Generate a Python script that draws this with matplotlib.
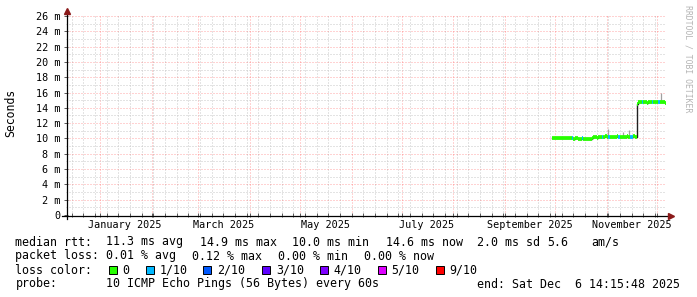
import datetime as dt
import matplotlib
matplotlib.use("Agg")
import matplotlib.pyplot as plt
import matplotlib.dates as mdates
import matplotlib.ticker as mticker
import matplotlib.transforms as mtransforms
from matplotlib.lines import Line2D
from matplotlib.patches import Rectangle

plt.rcParams['font.family'] = ['DejaVu Sans Mono']

W, H = 697, 297

# ---- data -------------------------------------------------------------
END = dt.datetime(2025, 12, 6, 14, 15, 48)
SPAN_DAYS = 360
FIRST_DAY = dt.datetime(2025, 9, 29)

# daily median rtt (ms), Sep 29 .. Dec 6
median_ms = [
    # Sep 29 - Oct 23
    10.0, 10.0, 10.0, 10.0, 10.1, 10.0, 10.0, 10.0, 10.0, 10.0,
    10.0, 10.0, 10.0, 9.9, 10.0, 10.0, 9.9, 9.9, 10.0, 9.9,
    9.9, 9.9, 9.9, 9.9, 10.0,
    # Oct 24 - Nov 18
    10.2, 10.2, 10.1, 10.2, 10.2, 10.2, 10.2, 10.3, 10.2, 10.2,
    10.2, 10.2, 10.2, 10.2, 10.3, 10.2, 10.2, 10.2, 10.2, 10.2,
    10.3, 10.2, 10.2, 10.2, 10.3, 10.2,
    # Nov 19 - Dec 6
    14.5, 14.8, 14.7, 14.7, 14.7, 14.7, 14.6, 14.7, 14.7, 14.8,
    14.7, 14.7, 14.7, 14.7, 14.7, 14.8, 14.7, 14.6,
]

# daily packet loss, in tenths
loss_tenths = [
    0, 0, 0, 0, 0, 0, 0, 0, 0, 0,
    0, 0, 1, 0, 0, 0, 0, 0, 1, 0,
    0, 0, 0, 0, 0, 0, 0, 0, 0, 0,
    1, 0, 0, 0, 1, 0, 0, 0, 0, 0,
    1, 0, 0, 0, 0, 0, 0, 1, 1, 0,
    0, 0, 0, 0, 1, 0, 0, 0, 0, 0,
    1, 0, 0, 0, 1, 0, 0, 0, 0,
]

# smoke spikes (ms)
spike_dates = ['2025-11-01', '2025-11-10', '2025-11-14', '2025-11-25', '2025-12-03']
spike_top_ms = [11.3, 10.9, 11.1, 15.0, 16.0]

loss_levels = [0, 1, 2, 3, 4, 5, 9]
loss_colors = ['#26ff00', '#00b8ff', '#0059ff', '#5e00ff', '#7e00ff', '#dd00ff', '#ff0000']

label_months = ['2025-01', '2025-03', '2025-05', '2025-07', '2025-09', '2025-11']

rtt_stats = ['11.3 ms avg', '14.9 ms max', '10.0 ms min', '14.6 ms now', '2.0 ms sd', '5.6', 'am/s']
loss_stats = ['0.01 % avg', '0.12 % max', '0.00 % min', '0.00 % now']
probe_text = '10 ICMP Echo Pings (56 Bytes) every 60s'
end_text = 'end: Sat Dec  6 14:15:48 2025'

# ---- figure -----------------------------------------------------------
fig = plt.figure(figsize=(W / 100, H / 100), dpi=100)
fig.patch.set_facecolor('white')

ax = fig.add_axes([66 / W, 1 - 215 / H, 600 / W, 200 / H])
ax.set_facecolor('white')
ax.set_xlim(END - dt.timedelta(days=SPAN_DAYS), END)
ax.set_ylim(0, 26.13)

for s in ax.spines.values():
    s.set_visible(False)

dots = (0, (1, 2))
ax.xaxis.set_major_locator(mdates.MonthLocator())
ax.xaxis.set_minor_locator(mdates.WeekdayLocator(byweekday=mdates.SU))
ax.yaxis.set_major_locator(mticker.MultipleLocator(2))
ax.yaxis.set_minor_locator(mticker.MultipleLocator(1))
ax.grid(which='minor', color='#c8c8c8', linestyle=dots, lw=0.72)
ax.grid(which='major', color='#ff0000', alpha=0.35, linestyle=dots, lw=0.72)
ax.set_axisbelow(True)

ax.tick_params(axis='x', which='both', labelbottom=False, direction='inout',
               length=3, width=0.6, color='#404040')
ax.tick_params(axis='y', which='major', direction='inout', length=3, width=0.6,
               color='#404040', labelsize=7.3, pad=2.6)
ax.tick_params(axis='y', which='minor', length=0)
ax.yaxis.set_major_formatter(
    mticker.FuncFormatter(lambda v, p: '0' if v == 0 else f'{v:.0f} m'))

# data
starts = [FIRST_DAY + dt.timedelta(days=i) for i in range(len(median_ms))]
ends = [min(d + dt.timedelta(days=1), END) for d in starts]
cmap = dict(zip(loss_levels, loss_colors))

sp_x = [dt.datetime.fromisoformat(d) for d in spike_dates]
sp_base = [median_ms[(d - FIRST_DAY).days] for d in sp_x]
sp_x = [d + dt.timedelta(hours=12) for d in sp_x]
ax.vlines(sp_x, sp_base, spike_top_ms, color='#a0a0a0', lw=0.9, zorder=2)

ax.plot(starts + [END], median_ms + [median_ms[-1]], drawstyle='steps-post',
        color='#202020', lw=1.0, zorder=3)
ax.hlines(median_ms, starts, ends, colors=[cmap[l] for l in loss_tenths],
          lw=2.7, capstyle='butt', zorder=4)

# axis lines with arrows
def px(x, y):
    return x / W, 1 - y / H

arrow_c = '#8b1a1a'
x0, y0 = px(66.5, 219)
x1, y1 = px(66.5, 11)
fig.add_artist(Line2D([x0, x1], [y0, y1], color='black', lw=0.9))
fig.add_artist(Line2D([x1], [y1], marker='^', color=arrow_c, markersize=4.5, lw=0))
x0, y0 = px(62, 215.5)
x1, y1 = px(671, 215.5)
fig.add_artist(Line2D([x0, x1], [y0, y1], color='black', lw=0.9))
fig.add_artist(Line2D([x1], [y1], marker='>', color=arrow_c, markersize=4.5, lw=0))

# month labels at month start + 15 days
trans = mtransforms.blended_transform_factory(ax.transData, fig.transFigure)
for m in label_months:
    d = dt.datetime.strptime(m, '%Y-%m')
    fig.text(mdates.date2num(d + dt.timedelta(days=15)), 1 - 228.5 / H,
             d.strftime('%B %Y'), transform=trans, ha='center', va='baseline',
             fontsize=7.3)

fig.text(10.5 / W, 1 - 113 / H, 'Seconds', rotation=90, ha='center',
         va='center', fontsize=8.3)
fig.text(688 / W, 1 - 5 / H, 'RRDTOOL / TOBI OETIKER', rotation=270,
         ha='center', va='top', fontsize=5.9, color='#b4b4b4')

# legend
fs = 8.4
def put(x, ybase, s):
    fig.text((x - 0.6) / W, 1 - ybase / H, s, ha='left', va='baseline', fontsize=fs)

put(16, 245.5, 'median rtt:')
for x, s in zip([107, 200.5, 293, 386.5, 478, 548, 591.5], rtt_stats):
    put(x, 245.5, s)

put(16, 259.5, 'packet loss:')
for x, s in zip([107, 193, 279, 365], loss_stats):
    put(x, 259.5, s)

put(16, 273.5, 'loss color:')
for x, lvl, c in zip([108.5, 145.5, 203, 262, 320, 377.5, 435.5], loss_levels, loss_colors):
    fig.add_artist(Rectangle(px(x, 274), 8 / W, 8 / H, facecolor=c,
                             edgecolor='black', lw=0.7, transform=fig.transFigure))
    put(x + 14.5, 273.5, '0' if lvl == 0 else f'{lvl}/10')

put(16, 287.5, 'probe:')
put(107, 287.5, probe_text)
put(478, 287.5, end_text)

fig.savefig('out.png', dpi=100, facecolor='white')
